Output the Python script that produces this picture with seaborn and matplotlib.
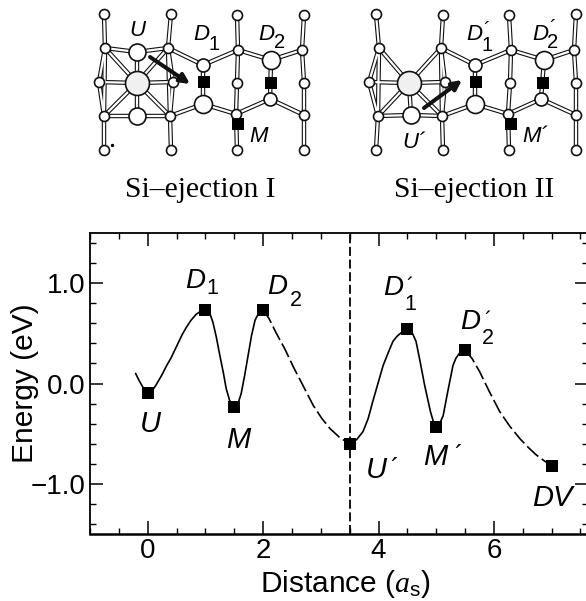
import numpy as np
import pandas as pd
import matplotlib
matplotlib.use("Agg")
import matplotlib.pyplot as plt
from matplotlib.ticker import MultipleLocator, FixedLocator
import seaborn as sns

sns.set_style("ticks")
plt.rcParams["font.family"] = ["Liberation Sans", "DejaVu Sans"]
plt.rcParams["mathtext.fontset"] = "custom"
plt.rcParams["mathtext.it"] = "Liberation Serif:italic"
plt.rcParams["mathtext.rm"] = "Liberation Sans"

# Energy profile
solid1_x = [-0.21, -0.15, -0.08, 0.0, 0.08, 0.15, 0.25, 0.32, 0.4, 0.5, 0.6, 0.67, 0.75, 0.84, 0.93, 1.0, 1.07, 1.13, 1.19, 1.25, 1.31, 1.36, 1.42, 1.5,
            1.57, 1.62, 1.68, 1.74, 1.8, 1.86, 1.93, 2.0]
solid1_y = [0.10, 0.03, -0.04, -0.09, -0.07, -0.01, 0.09, 0.17, 0.25, 0.37, 0.49, 0.56, 0.63, 0.69, 0.725, 0.73, 0.71, 0.61, 0.46, 0.28, 0.11, -0.05, -0.17, -0.23,
            -0.19, -0.10, 0.08, 0.28, 0.48, 0.63, 0.71, 0.73]
dash1_x = [2.0, 2.1, 2.23, 2.38, 2.52, 2.7, 2.87, 3.02, 3.16, 3.33, 3.5]
dash1_y = [0.73, 0.65, 0.50, 0.34, 0.17, -0.03, -0.22, -0.35, -0.45, -0.54, -0.60]
solid2_x = [3.5, 3.62, 3.73, 3.82, 3.9, 4.0, 4.08, 4.17, 4.25, 4.32, 4.38, 4.5, 4.58, 4.65, 4.72, 4.8, 4.9, 4.95, 5.0, 5.06, 5.12, 5.2, 5.29, 5.34, 5.4, 5.5]
solid2_y = [-0.60, -0.56, -0.48, -0.35, -0.18, 0.02, 0.18, 0.31, 0.42, 0.47, 0.50, 0.54, 0.51, 0.42, 0.22, -0.02, -0.28, -0.38, -0.43, -0.40, -0.32, -0.08, 0.18, 0.25, 0.30, 0.33]
dash2_x = [5.5, 5.62, 5.75, 5.92, 6.1, 6.28, 6.45, 6.6, 6.73, 6.87, 7.0]
dash2_y = [0.33, 0.25, 0.12, -0.08, -0.28, -0.43, -0.55, -0.64, -0.71, -0.77, -0.82]
marker_x = [0, 1, 1.5, 2, 3.5, 4.5, 5, 5.5, 7]
marker_y = [-0.09, 0.73, -0.23, 0.73, -0.60, 0.54, -0.43, 0.33, -0.82]
x_ticks = [0, 2, 4, 6]
y_ticks = [-1.0, 0.0, 1.0]
y_tick_labels = ["\u22121.0", "0.0", "1.0"]

# Schematic atoms (picture pixels)
names = ["T0","T1","T2","T3","a0","U","a1","D1","a2","D2","a3","m0","C","m1","m2","m3",
         "b0","L","b1","E1","b2","E2","b3","B0","B1","B2","B3"]
left_x = [104,171,237,304,105,137,168,203,238,271,302,99,137,173,237,304,104,137,170,203,236,270,304,104,171,237,304]
left_y = [14,14,15,15,48,52,48,65,50,60,50,82,83,82,83,83,116,116,116,104,114,99,115,150,150,150,150]
right_x = [376,443,509,576,379,None,441,475,511,544,574,369,409,445,510,576,378,411,442,475,508,541,576,376,443,509,576]
right_y = [14,15,15,14,48,None,48,65,50,60,50,82,83,82,83,83,116,115,116,104,114,99,115,150,150,150,150]
radii = dict(U=8.5, C=12, L=8.5, D1=6.5, D2=9, E1=9, E2=6.5)
bonds_common = ["T0-a0","T1-a1","T2-a2","T3-a3","a1-D1","D1-a2","a2-D2","D2-a3","a0-m0","a0-C","a0-b0","a1-C","a1-m1",
                "m0-C","C-m1","m0-b0","C-b0","C-L","C-b1","m1-b1","b0-L","L-b1","b1-E1","E1-b2","b2-E2","E2-b3",
                "D1-E1","D2-E2","a2-m2","m2-b2","a3-m3","m3-b3","b0-B0","b1-B1","b2-B2","b3-B3","a1-b1"]
bonds_left = ["a0-U","U-a1","U-C"]
square_x = [204, 271, 238, 476, 543, 511]
square_y = [82, 83, 124, 82, 83, 124]

fig = plt.figure(figsize=(5.86, 6.01), dpi=100, facecolor="white")
W, H = 586, 601
ax = fig.add_axes([90/W, 1-534/H, (588-90)/W, (534-233)/H])

for sx, sy, ls in [(solid1_x, solid1_y, "-"), (dash1_x, dash1_y, (0, (9, 2.5))),
                   (solid2_x, solid2_y, "-"), (dash2_x, dash2_y, (0, (9, 2.5)))]:
    sns.lineplot(data=pd.DataFrame(dict(x=sx, y=sy)), x="x", y="y", ax=ax, sort=False, estimator=None,
                 color="black", linewidth=1.2, linestyle=ls)
ax.axvline(3.5, color="black", linewidth=1.3, linestyle=(0, (5, 2)))
sns.scatterplot(x=marker_x, y=marker_y, ax=ax, marker="s", s=70, color="black", linewidth=0, zorder=5)

ax.set_xlim(-1.0, 7.63)
ax.set_ylim(-1.5, 1.5)
ax.xaxis.set_major_locator(FixedLocator(x_ticks))
ax.xaxis.set_minor_locator(MultipleLocator(0.5))
ax.yaxis.set_major_locator(FixedLocator(y_ticks))
ax.set_yticklabels(y_tick_labels)
ax.yaxis.set_minor_locator(MultipleLocator(0.2))
ax.tick_params(which="major", direction="in", length=9.5, width=1.1, top=True, right=True,
               labelsize=20, pad=3, color="black", labelcolor="black")
ax.tick_params(which="minor", direction="in", length=4.3, width=1.0, top=True, right=True, color="black")
for s in ax.spines.values():
    s.set_linewidth(1.3)
    s.set_edgecolor("black")
ax.spines["bottom"].set_linewidth(1.8)
ax.set_xlabel("")
ax.set_ylabel("")

def txt(x, y, s, size=21, style="italic", family="Liberation Sans", va="center", **kw):
    fig.text(x/W, 1-y/H, s, fontsize=size, style=style, family=family, ha="center", va=va, color="black", **kw)

txt(345, 592, r"Distance ($a_{\mathrm{s}}$)", size=21.5, style="normal", va="baseline")
txt(25, 383, "Energy (eV)", size=21.5, style="normal", rotation=90)

# Schematic overlay
ov = fig.add_axes([0, 0, 1, 1], facecolor="none")
ov.set_xlim(0, W)
ov.set_ylim(H, 0)
ov.axis("off")

for xs, ys, extra in [(left_x, left_y, bonds_left), (right_x, right_y, [])]:
    pos = dict(zip(names, zip(xs, ys)))
    for b in bonds_common + extra:
        p, q = b.split("-")
        segx, segy = [pos[p][0], pos[q][0]], [pos[p][1], pos[q][1]]
        ov.plot(segx, segy, color="#111111", linewidth=3.2, solid_capstyle="round", zorder=2)
        ov.plot(segx, segy, color="white", linewidth=1.6, solid_capstyle="round", zorder=3)
    for n in names:
        if pos[n][0] is None:
            continue
        r = radii.get(n, 5)
        face = "#f0f0f0" if n == "C" else "white"
        sns.scatterplot(x=[pos[n][0]], y=[pos[n][1]], ax=ov, s=(2*r*0.72)**2, color=face,
                        edgecolor="#111111", linewidth=1.2, zorder=4)
sns.scatterplot(x=square_x, y=square_y, ax=ov, marker="s", s=68, color="black", linewidth=0, zorder=6)
ov.scatter([112], [145], s=2, color="black")

ov.annotate("", xy=(190, 84), xytext=(150, 57), zorder=7,
            arrowprops=dict(arrowstyle="-|>", color="#111111", lw=2.9, mutation_scale=14, shrinkA=0, shrinkB=0))
ov.annotate("", xy=(462, 80), xytext=(424, 108), zorder=7,
            arrowprops=dict(arrowstyle="-|>", color="#111111", lw=2.9, mutation_scale=14, shrinkA=0, shrinkB=0))

# Schematic labels
txt(137, 31, "U", 16)
txt(201, 35, "D", 16); txt(214, 45, "1", 14.5, "normal")
txt(266, 34, "D", 16); txt(280, 42, "2", 14.5, "normal")
txt(259, 137, "M", 16)
txt(474, 35, "D", 16); txt(487, 51, "\u00b4\n1", 14.5, "normal", va="baseline", linespacing=0.7)
txt(540, 34, "D", 16); txt(553, 48, "\u00b4\n2", 14.5, "normal", va="baseline", linespacing=0.7)
txt(414, 142, "U\u00b4", 16)
txt(535, 137, "M\u00b4", 16)
txt(200, 190, "Si\u2013ejection I", 21.3, "normal", "Liberation Serif")
txt(474, 190, "Si\u2013ejection II", 21.3, "normal", "Liberation Serif")

# Plot labels
txt(150, 424, "U"); txt(238, 440, "M")
txt(195, 281, "D", 20); txt(212, 289, "1", 15.5, "normal")
txt(277, 287, "D", 20); txt(296, 300, "2", 15.5, "normal")
txt(393, 288, "D", 20); txt(410, 310, "\u00b4\n1", 15.5, "normal", va="baseline", linespacing=0.75)
txt(470, 322, "D", 20); txt(488, 344, "\u00b4\n2", 15.5, "normal", va="baseline", linespacing=0.75)
txt(376, 470, "U"); txt(394, 469, "\u00b4", 18, "normal")
txt(435, 457, "M"); txt(458, 456, "\u00b4", 18, "normal")
txt(552, 498, "DV")

fig.savefig("out.png", dpi=100, facecolor="white")
